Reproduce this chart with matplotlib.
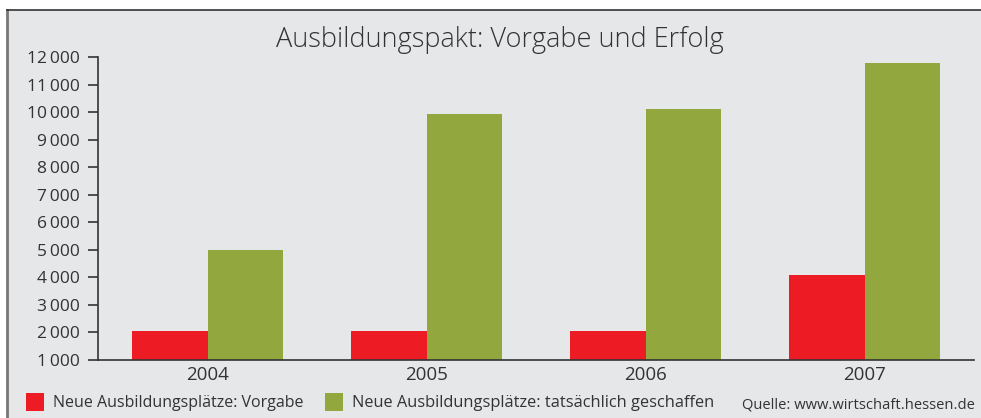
import matplotlib
matplotlib.use("Agg")
import matplotlib.pyplot as plt
from matplotlib.patches import Rectangle
from matplotlib.lines import Line2D
from matplotlib.ticker import FuncFormatter
import numpy as np

# Data
years = ["2004", "2005", "2006", "2007"]
vorgabe = [2060, 2060, 2060, 4090]
geschaffen = [4990, 9930, 10110, 11780]
yticks = list(range(1000, 13000, 1000))

RED = "#ED1C24"
GREEN = "#92A83E"
BG = "#E6E7E9"
TXT = "#333333"

plt.rcParams["font.family"] = ["Open Sans", "DejaVu Sans"]

W, H = 981, 418
fig = plt.figure(figsize=(W / 100, H / 100), dpi=100)
fig.patch.set_facecolor("white")

# gray panel with left and top border
fig.patches.append(Rectangle((7 / W, 0), 1 - 7 / W, 1 - 10 / H, transform=fig.transFigure,
                             facecolor=BG, edgecolor="none", zorder=-10))
fig.lines.append(Line2D([7 / W, 7 / W], [0, 1 - 10 / H], transform=fig.transFigure, color="#777777", lw=2))
fig.lines.append(Line2D([7 / W, 1], [1 - 10 / H, 1 - 10 / H], transform=fig.transFigure, color="#333333", lw=1.2))

ax = fig.add_axes([98 / W, 58 / H, (974 - 98) / W, (360 - 57) / H])
ax.set_facecolor(BG)
ax.patch.set_alpha(0)

x = np.arange(len(years))
w = 0.347
ax.bar(x - w / 2, vorgabe, width=w, color=RED, zorder=2)
ax.bar(x + w / 2, geschaffen, width=w, color=GREEN, zorder=2)

ax.set_xlim(-0.5, 3.5)
ax.set_ylim(1000, 12000)
ax.set_yticks(yticks)
ax.yaxis.set_major_formatter(FuncFormatter(lambda v, p: "{:,}".format(int(v)).replace(",", "\u2009")))
ax.set_xticks(x)
ax.set_xticklabels(years)

for s in ["top", "right"]:
    ax.spines[s].set_visible(False)
ax.spines["left"].set_color(TXT)
ax.spines["bottom"].set_color(TXT)
ax.spines["left"].set_linewidth(1.2)
ax.spines["bottom"].set_linewidth(1.2)
ax.tick_params(axis="y", direction="out", length=7, width=1.2, color=TXT, labelcolor=TXT, labelsize=12.5, pad=6)
ax.tick_params(axis="x", length=0, labelcolor=TXT, labelsize=13.5, pad=4)

fig.text(500 / W, 1 - 40 / H, "Ausbildungspakt: Vorgabe und Erfolg", ha="center", va="center",
         fontsize=19.5, color=TXT, fontweight="light")

# legend row
fig.patches.append(Rectangle((26 / W, 1 - 411 / H), 18 / W, 18 / H, transform=fig.transFigure,
                             facecolor=RED, edgecolor="none"))
fig.text(53 / W, 1 - 403 / H, "Neue Ausbildungsplätze: Vorgabe", ha="left", va="center", fontsize=11.5, color=TXT)
fig.patches.append(Rectangle((325 / W, 1 - 411 / H), 18 / W, 18 / H, transform=fig.transFigure,
                             facecolor=GREEN, edgecolor="none"))
fig.text(352 / W, 1 - 403 / H, "Neue Ausbildungsplätze: tatsächlich geschaffen", ha="left", va="center",
         fontsize=11.8, color=TXT)
fig.text(975 / W, 1 - 405 / H, "Quelle: www.wirtschaft.hessen.de", ha="right", va="center", fontsize=10.6, color=TXT)

fig.savefig("out.png", dpi=100)
